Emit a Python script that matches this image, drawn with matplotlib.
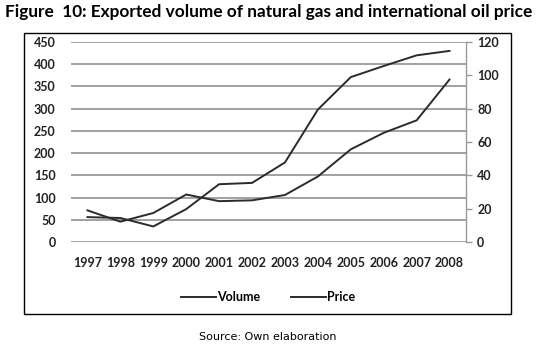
import matplotlib.pyplot as plt
from matplotlib.patches import Rectangle

# Data
years = ["1997", "1998", "1999", "2000", "2001", "2002",
         "2003", "2004", "2005", "2006", "2007", "2008"]
volume = [56, 54, 35, 74, 130, 133, 179, 298, 371, 396, 420, 430]
price = [19.0, 12.2, 17.4, 28.5, 24.5, 25.0, 28.2, 39.3, 55.6, 65.5, 73.0, 97.5]

left_ticks = [0, 50, 100, 150, 200, 250, 300, 350, 400, 450]
right_ticks = [0, 20, 40, 60, 80, 100, 120]

line_color = "#2b2b2b"
grid_color = "#9a9a9a"
label_font = "Lato"

fig = plt.figure(figsize=(5.36, 3.52), dpi=100)
W, H = 536, 352

# frame around the chart
fig.patches.append(Rectangle((24 / W, 1 - 314 / H), (511 - 24) / W, (314 - 33) / H,
                             transform=fig.transFigure, fill=False,
                             edgecolor="black", linewidth=1.0))

ax = fig.add_axes([71 / W, 1 - 242 / H, (466 - 71) / W, (242 - 42) / H])
ax2 = ax.twinx()

x = list(range(len(years)))
l1, = ax.plot(x, volume, color=line_color, linewidth=1.4, label="Volume")
l2, = ax2.plot(x, price, color=line_color, linewidth=1.4, label="Price")

ax.set_xlim(-0.5, len(years) - 0.5)
ax.set_ylim(0, 450)
ax2.set_ylim(0, 120)
ax.set_yticks(left_ticks)
ax2.set_yticks(right_ticks)
ax.set_xticks(x)
ax.set_xticklabels(years)

for t in left_ticks:
    ax.axhline(t, color=grid_color, linewidth=1.3, zorder=0)

for a in (ax, ax2):
    for s in ("top", "left", "bottom", "right"):
        a.spines[s].set_visible(False)
ax2.spines["right"].set_visible(True)
ax2.spines["right"].set_color(grid_color)
ax2.spines["right"].set_linewidth(1.0)

ax.tick_params(axis="y", length=0, pad=11, labelsize=9, labelcolor="#222222")
ax.tick_params(axis="x", length=0, pad=11, labelsize=9, labelcolor="#222222")
ax2.tick_params(axis="y", length=4, width=1, color=grid_color, pad=4,
                labelsize=9, labelcolor="#222222")
for lab in ax.get_xticklabels() + ax.get_yticklabels() + ax2.get_yticklabels():
    lab.set_fontfamily(label_font)
    lab.set_fontweight("bold")

leg = fig.legend(handles=[l1, l2], loc="center", bbox_to_anchor=(268 / W, 1 - 297 / H),
                 ncol=2, frameon=False, handlelength=2.8, handletextpad=0.1,
                 columnspacing=2.4, prop={"family": label_font, "weight": "bold", "size": 9})

fig.text(269 / W, 1 - 12 / H, "Figure  10: Exported volume of natural gas and international oil price",
         ha="center", va="center", fontsize=12.4, fontweight="bold", family="Lato")
fig.text(268 / W, 1 - 337 / H, "Source: Own elaboration",
         ha="center", va="center", fontsize=8, family="DejaVu Sans")

fig.savefig("out.png", dpi=100)
